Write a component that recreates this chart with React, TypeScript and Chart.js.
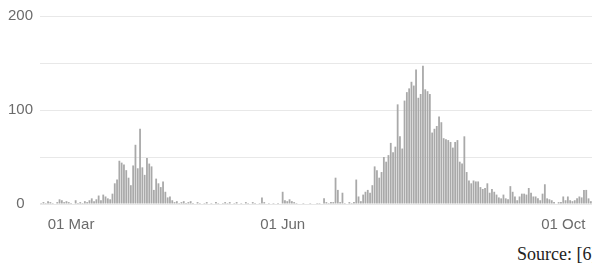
import React, { useEffect, useRef } from 'react';
import { Chart, registerables } from 'chart.js';

Chart.register(...registerables);

// ---- data ----
const START_DATE = '2020-02-17';
const DAILY_CASES = [
  1, 2, 1, 3, 2, 1, 0, 2, 5, 4, 2, 3, 2, 1, 0, 4, 1, 2, 1, 3,
  2, 4, 6, 3, 5, 9, 4, 10, 8, 6, 5, 11, 22, 26, 46, 44, 42, 36, 28, 20,
  41, 63, 38, 80, 39, 31, 49, 43, 40, 15, 27, 22, 18, 24, 13, 7, 8, 4, 2, 3,
  1, 2, 3, 1, 2, 3, 1, 0, 2, 1, 0, 1, 2, 0, 1, 0, 2, 1, 0, 1,
  2, 1, 2, 0, 1, 2, 0, 1, 0, 2, 1, 0, 2, 1, 0, 1, 7, 2, 0, 1,
  0, 1, 0, 1, 0, 13, 4, 3, 5, 3, 2, 1, 0, 0, 1, 0, 0, 1, 0, 0,
  1, 1, 0, 6, 2, 1, 2, 2, 28, 15, 2, 12, 1, 0, 2, 1, 2, 26, 8, 3,
  10, 13, 15, 12, 20, 40, 36, 28, 34, 50, 45, 52, 65, 55, 61, 106, 72, 59, 110, 119,
  123, 130, 126, 143, 113, 117, 147, 122, 120, 117, 76, 80, 83, 93, 87, 70, 69, 68, 66, 60,
  66, 68, 45, 43, 72, 34, 25, 22, 25, 24, 24, 18, 16, 17, 22, 12, 16, 13, 10, 7,
  6, 10, 6, 5, 19, 13, 8, 4, 8, 11, 11, 10, 17, 12, 8, 8, 6, 4, 11, 21,
  6, 5, 4, 2, 0, 2, 2, 8, 4, 8, 4, 3, 4, 6, 8, 7, 15, 15, 6, 3,
];
const X_TICK_DATES = ['2020-03-01', '2020-06-01', '2020-10-01'];
const X_TICK_LABELS = ['01 Mar', '01 Jun', '01 Oct'];
const Y_TICK_LABELS = [0, 100, 200];
const Y_MAX = 200;
const Y_GRID_STEP = 50;
const SOURCE_TEXT = 'Source: [6]';

const DAY_MS = 86400000;
const START_MS = Date.parse(START_DATE + 'T00:00:00Z');
const CATEGORIES = DAILY_CASES.map((_, i) =>
  new Date(START_MS + i * DAY_MS).toISOString().slice(0, 10)
);

const TICK_FONT = { family: '"Liberation Sans", Arial, Helvetica, sans-serif', size: 15 };

export default function App() {
  const ref = useRef<HTMLCanvasElement | null>(null);

  useEffect(() => {
    if (!ref.current) return;
    const chart = new Chart(ref.current, {
      type: 'bar',
      data: {
        labels: CATEGORIES,
        datasets: [
          {
            data: DAILY_CASES,
            backgroundColor: '#a9a9a9',
            borderWidth: 0,
            barPercentage: 0.78,
            categoryPercentage: 1,
          },
        ],
      },
      options: {
        animation: false,
        responsive: false,
        devicePixelRatio: 1,
        layout: { padding: { top: 15, left: 0, right: 0, bottom: 0 } },
        plugins: { legend: { display: false }, tooltip: { enabled: false } },
        scales: {
          x: {
            grid: {
              display: true,
              drawOnChartArea: false,
              drawTicks: true,
              tickLength: 12,
              color: 'rgba(0,0,0,0)',
            },
            border: { display: false },
            afterFit: (s: any) => {
              s.height = 36;
            },
            ticks: {
              autoSkip: false,
              maxRotation: 0,
              minRotation: 0,
              padding: 0,
              color: '#6b6b6b',
              font: TICK_FONT,
              callback: (_v: any, idx: number) => {
                const k = X_TICK_DATES.indexOf(CATEGORIES[idx]);
                return k >= 0 ? X_TICK_LABELS[k] : '';
              },
            },
          },
          y: {
            min: 0,
            max: Y_MAX,
            grid: { color: '#e8e8e8', drawTicks: false, lineWidth: 1 },
            border: { display: false },
            afterFit: (s: any) => {
              s.width = 40;
            },
            ticks: {
              stepSize: Y_GRID_STEP,
              padding: 7,
              crossAlign: 'center',
              color: '#6b6b6b',
              font: TICK_FONT,
              callback: (v: any) => (Y_TICK_LABELS.includes(Number(v)) ? String(v) : ''),
            },
          },
        },
      },
    });
    return () => chart.destroy();
  }, []);

  return (
    <div
      style={{
        position: 'fixed',
        left: 0,
        top: 0,
        width: 592,
        height: 269,
        overflow: 'hidden',
        background: '#fff',
      }}
    >
      <canvas
        ref={ref}
        width={592}
        height={240}
        style={{ position: 'absolute', left: 0, top: 0, width: 592, height: 240 }}
      />
      <div
        style={{
          position: 'absolute',
          left: 517,
          top: 245,
          whiteSpace: 'nowrap',
          fontFamily: '"Liberation Serif", "Times New Roman", serif',
          fontSize: 18,
          lineHeight: '18px',
          color: '#222',
        }}
      >
        {SOURCE_TEXT}
      </div>
    </div>
  );
}
